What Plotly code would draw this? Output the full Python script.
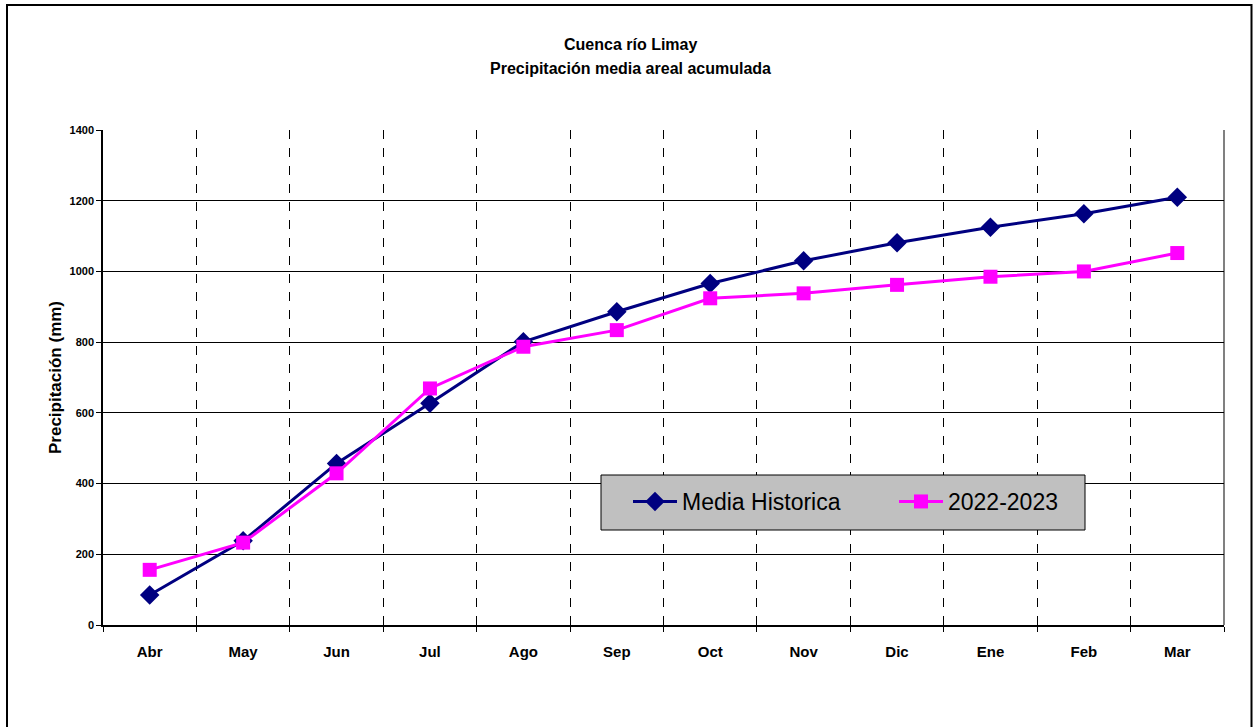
import plotly.graph_objects as go

# Monthly accumulated areal precipitation, Limay basin (mm)
months = ["Abr", "May", "Jun", "Jul", "Ago", "Sep", "Oct", "Nov", "Dic", "Ene", "Feb", "Mar"]
media_historica = [85, 238, 457, 627, 801, 886, 966, 1030, 1081, 1125, 1163, 1210]
temporada_2022_2023 = [156, 233, 429, 669, 787, 834, 924, 938, 962, 985, 1000, 1052]
y_ticks = [0, 200, 400, 600, 800, 1000, 1200, 1400]

FONT = "Liberation Sans, Arial, sans-serif"

fig = go.Figure()
fig.add_trace(go.Scatter(
    x=months, y=media_historica, name="Media Historica",
    mode="lines+markers",
    line=dict(color="#000080", width=3),
    marker=dict(symbol="diamond", size=15, color="#000080"),
))
fig.add_trace(go.Scatter(
    x=months, y=temporada_2022_2023, name="2022-2023",
    mode="lines+markers",
    line=dict(color="#FF00FF", width=3),
    marker=dict(symbol="square", size=14, color="#FF00FF"),
))

L, R, T, B = 103, 30, 130, 102
W, H = 1254, 727
pw, ph = W - L - R, H - T - B


def px_x(p):
    return (p - L) / pw


def px_y(p):
    return (H - B - p) / ph


shapes = [
    # outer frame of the chart
    dict(type="rect", xref="paper", yref="paper",
         x0=px_x(7), x1=px_x(1251.5), y0=px_y(760), y1=px_y(5),
         line=dict(color="black", width=2), fillcolor="rgba(0,0,0,0)", layer="below"),
    # plot area border (right side)
    dict(type="line", xref="paper", yref="paper", x0=1, x1=1, y0=0, y1=1,
         line=dict(color="#808080", width=2), layer="below"),
    # legend box
    dict(type="rect", xref="paper", yref="paper",
         x0=px_x(601), x1=px_x(1085), y0=px_y(530), y1=px_y(475),
         line=dict(color="black", width=1), fillcolor="#C0C0C0", layer="above"),
]

title_font = dict(family=FONT, size=16, weight="bold", color="black")
annotations = [
    dict(text="Cuenca río Limay", xref="paper", yref="paper",
         x=px_x(630), y=px_y(44), xanchor="center", yanchor="middle",
         showarrow=False, font=title_font),
    dict(text="Precipitación media areal acumulada", xref="paper", yref="paper",
         x=px_x(630), y=px_y(68), xanchor="center", yanchor="middle",
         showarrow=False, font=title_font),
    dict(text="Precipitación (mm)", xref="paper", yref="paper",
         x=px_x(55), y=px_y(378), xanchor="center", yanchor="middle",
         textangle=-90, showarrow=False,
         font=dict(family=FONT, size=17, weight="bold", color="black")),
]

fig.update_layout(
    width=W, height=H,
    margin=dict(l=L, r=R, t=T, b=B, autoexpand=False),
    paper_bgcolor="white", plot_bgcolor="white",
    font=dict(family=FONT, color="black"),
    showlegend=True,
    legend=dict(
        orientation="h", x=px_x(628), y=px_y(480), xanchor="left", yanchor="top",
        bgcolor="rgba(0,0,0,0)", borderwidth=0,
        font=dict(family=FONT, size=23, color="black"),
        entrywidth=207, itemsizing="trace", itemwidth=44,
    ),
    shapes=shapes,
    annotations=annotations,
    xaxis=dict(
        type="category", tickson="boundaries", automargin=False,
        showgrid=True, gridcolor="black", gridwidth=1, griddash="dash",
        showline=True, linecolor="black", linewidth=1.5,
        ticks="outside", ticklen=5, tickcolor="black",
        ticklabelstandoff=12,
        tickfont=dict(family=FONT, size=15, weight="bold", color="black"),
        range=[-0.5, 11.5], zeroline=False,
    ),
    yaxis=dict(
        range=[0, 1400], tickvals=y_ticks, ticktext=[str(v) for v in y_ticks],
        automargin=False,
        showgrid=True, gridcolor="black", gridwidth=1,
        showline=True, linecolor="black", linewidth=1.5,
        ticks="outside", ticklen=5, tickcolor="black",
        tickfont=dict(family=FONT, size=11, weight="bold", color="black"),
        zeroline=False,
    ),
)

fig.write_html("out.html")
